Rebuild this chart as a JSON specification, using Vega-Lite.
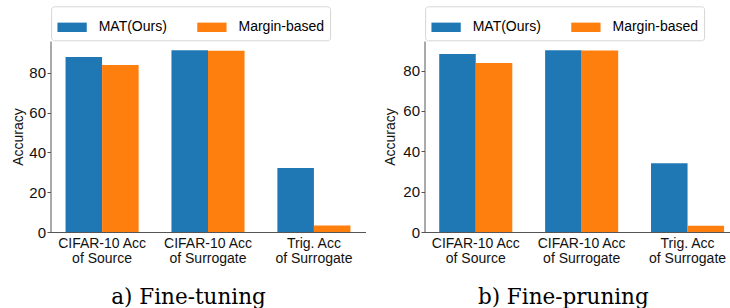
{
  "$schema": "https://vega.github.io/schema/vega-lite/v6.json",
  "background": "white",
  "padding": {"left": 11.5, "top": 5, "right": 0, "bottom": 0},
  "datasets": {
    "tuning": [
      {"metric": "CIFAR-10 Acc of Source", "method": "MAT(Ours)", "accuracy": 87.9},
      {"metric": "CIFAR-10 Acc of Source", "method": "Margin-based", "accuracy": 83.9},
      {"metric": "CIFAR-10 Acc of Surrogate", "method": "MAT(Ours)", "accuracy": 91.4},
      {"metric": "CIFAR-10 Acc of Surrogate", "method": "Margin-based", "accuracy": 91.1},
      {"metric": "Trig. Acc of Surrogate", "method": "MAT(Ours)", "accuracy": 32.2},
      {"metric": "Trig. Acc of Surrogate", "method": "Margin-based", "accuracy": 3.3}
    ],
    "pruning": [
      {"metric": "CIFAR-10 Acc of Source", "method": "MAT(Ours)", "accuracy": 88.3},
      {"metric": "CIFAR-10 Acc of Source", "method": "Margin-based", "accuracy": 83.8},
      {"metric": "CIFAR-10 Acc of Surrogate", "method": "MAT(Ours)", "accuracy": 90.1},
      {"metric": "CIFAR-10 Acc of Surrogate", "method": "Margin-based", "accuracy": 90.0},
      {"metric": "Trig. Acc of Surrogate", "method": "MAT(Ours)", "accuracy": 34.1},
      {"metric": "Trig. Acc of Surrogate", "method": "Margin-based", "accuracy": 3.1}
    ]
  },
  "bounds": "flush",
  "spacing": 59,
  "hconcat": [
    {
      "width": 315,
      "height": 191,
      "data": {"name": "tuning"},
      "mark": {"type": "bar"},
      "encoding": {
        "x": {
          "field": "metric", "type": "nominal", "sort": null,
          "scale": {"paddingInner": 0.31, "paddingOuter": 0.142},
          "axis": {"title": "a) Fine-tuning", "titleX": 137.5, "titleY": 71.4}
        },
        "xOffset": {
          "field": "method", "type": "nominal", "sort": ["MAT(Ours)", "Margin-based"],
          "scale": {"paddingInner": 0, "paddingOuter": 0}
        },
        "y": {
          "field": "accuracy", "type": "quantitative",
          "scale": {"domain": [0, 96], "nice": false},
          "axis": {"values": [0, 20, 40, 60, 80], "title": "Accuracy", "titleX": -32, "titleY": 95.5}
        },
        "color": {
          "field": "method", "type": "nominal",
          "scale": {"domain": ["MAT(Ours)", "Margin-based"], "range": ["#1f77b4", "#ff7f0e"]},
          "legend": {"legendX": 0.6, "legendY": -34.7}
        }
      }
    },
    {
      "width": 309,
      "height": 191,
      "data": {"name": "pruning"},
      "mark": {"type": "bar"},
      "encoding": {
        "x": {
          "field": "metric", "type": "nominal", "sort": null,
          "scale": {"paddingInner": 0.31, "paddingOuter": 0.114, "align": 0.61},
          "axis": {"title": "b) Fine-pruning", "titleX": 138.3, "titleY": 71.7}
        },
        "xOffset": {
          "field": "method", "type": "nominal", "sort": ["MAT(Ours)", "Margin-based"],
          "scale": {"paddingInner": 0, "paddingOuter": 0}
        },
        "y": {
          "field": "accuracy", "type": "quantitative",
          "scale": {"domain": [0, 94.7], "nice": false},
          "axis": {"values": [0, 20, 40, 60, 80], "title": "Accuracy", "titleX": -34, "titleY": 95.5}
        },
        "color": {
          "field": "method", "type": "nominal",
          "scale": {"domain": ["MAT(Ours)", "Margin-based"], "range": ["#1f77b4", "#ff7f0e"]},
          "legend": {"legendX": 0.6, "legendY": -34.7}
        }
      }
    }
  ],
  "resolve": {
    "scale": {"x": "independent", "y": "independent", "xOffset": "independent", "color": "independent"},
    "axis": {"x": "independent", "y": "independent"},
    "legend": {"color": "independent"}
  },
  "config": {
    "view": {"stroke": null},
    "axis": {
      "grid": false,
      "domainColor": "#555555",
      "domainWidth": 1,
      "tickColor": "#555555",
      "labelFont": "Liberation Sans",
      "labelFontSize": 14,
      "labelColor": "#111111",
      "titleFont": "Liberation Sans",
      "titleFontSize": 14,
      "titleFontWeight": "normal",
      "titleColor": "#111111"
    },
    "axisX": {
      "ticks": false,
      "labelAngle": 0,
      "labelPadding": 4.4,
      "labelLineHeight": 15,
      "labelLimit": 0,
      "labelExpr": "[slice(datum.label, 0, indexof(datum.label, ' of ')), slice(datum.label, indexof(datum.label, ' of ') + 1)]",
      "titleFont": "DejaVu Serif",
      "titleFontSize": 21.5,
      "titleColor": "#000000",
      "titleAlign": "center",
      "titleBaseline": "alphabetic"
    },
    "axisY": {
      "tickSize": 3.5,
      "labelPadding": 1.5,
      "labelFontSize": 15,
      "titleAngle": 270,
      "titleAlign": "center",
      "titleBaseline": "middle"
    },
    "legend": {
      "orient": "none",
      "direction": "horizontal",
      "title": null,
      "symbolType": "M-1,-0.32H1V0.32H-1Z",
      "symbolSize": 858,
      "symbolStrokeWidth": 0,
      "symbolOpacity": 1,
      "labelFont": "Liberation Sans",
      "labelFontSize": 14,
      "labelColor": "#000000",
      "labelOffset": 11.6,
      "columnPadding": 29.8,
      "padding": 6,
      "strokeColor": "#d6d6d6",
      "fillColor": "white",
      "cornerRadius": 3
    }
  }
}
